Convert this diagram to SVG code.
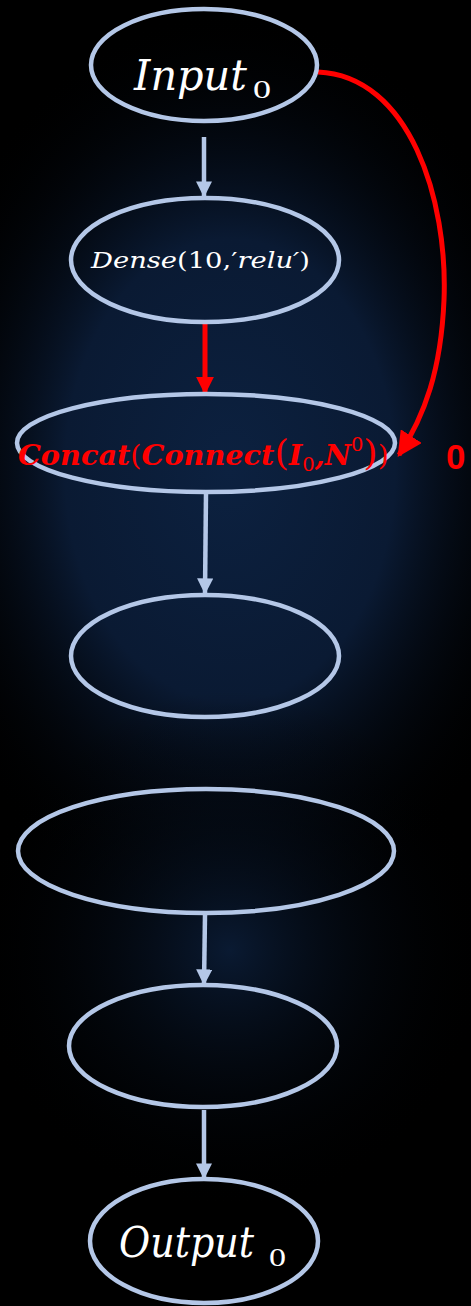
<svg xmlns="http://www.w3.org/2000/svg" width="471" height="1306" viewBox="0 0 471 1306">
<defs>
<radialGradient id="bg1" cx="230" cy="470" r="330" gradientUnits="userSpaceOnUse" gradientTransform="translate(230 470) scale(1 1.4) translate(-230 -470)">
<stop offset="0" stop-color="#0c2140"/>
<stop offset="0.5" stop-color="#0a1a33"/>
<stop offset="1" stop-color="#000000" stop-opacity="0"/>
</radialGradient>
<radialGradient id="bg2" cx="230" cy="950" r="260" gradientUnits="userSpaceOnUse">
<stop offset="0" stop-color="#0a1a32"/>
<stop offset="1" stop-color="#000000" stop-opacity="0"/>
</radialGradient>
<marker id="ab" viewBox="0 0 10 10" refX="9" refY="5" markerWidth="3.6" markerHeight="3.6" orient="auto" markerUnits="strokeWidth">
<path d="M0,0 L10,5 L0,10 z" fill="#b4c7e7"/>
</marker>
<marker id="ar" viewBox="0 0 10 10" refX="9" refY="5" markerWidth="3.6" markerHeight="3.6" orient="auto" markerUnits="strokeWidth">
<path d="M0,0 L10,5 L0,10 z" fill="#ff0000"/>
</marker>
<marker id="ar2" viewBox="0 0 10 10" refX="9" refY="5" markerWidth="5" markerHeight="5" orient="auto" markerUnits="strokeWidth">
<path d="M0,0 L10,5 L0,10 z" fill="#ff0000"/>
</marker>
</defs>
<style>
.node{fill:none;stroke:#b4c7e7;stroke-width:4.5}
.lbl{font-family:"DejaVu Serif",serif;font-style:italic;fill:#ffffff}
.up{font-family:"Liberation Serif",serif;font-style:normal;fill:#ffffff}
.rb{font-family:"DejaVu Serif",serif;font-style:italic;font-weight:bold;fill:#ff0000}
.rn{font-family:"DejaVu Serif",serif;font-style:normal;font-weight:normal;fill:#ff0000}
.blue{stroke:#b4c7e7;stroke-width:4.5;fill:none}
.red{stroke:#ff0000;stroke-width:5;fill:none}
</style>
<rect width="471" height="1306" fill="#000"/>
<rect width="471" height="1306" fill="url(#bg1)"/>
<rect width="471" height="1306" fill="url(#bg2)"/>
<g id="connectors">
<line class="blue" x1="204" y1="137" x2="204" y2="196" marker-end="url(#ab)"/>
<line class="red" x1="205" y1="322" x2="205" y2="393" marker-end="url(#ar)"/>
<line class="blue" x1="206" y1="493" x2="205" y2="593" marker-end="url(#ab)"/>
<line class="blue" x1="205" y1="915" x2="204" y2="984" marker-end="url(#ab)"/>
<line class="blue" x1="204" y1="1110" x2="204" y2="1178" marker-end="url(#ab)"/>
<path class="red" d="M318,72 C410,76 448,200 444,300 C441,370 425,415 399,455" marker-end="url(#ar2)"/>
</g>
<g id="n-input">
<ellipse class="node" cx="204" cy="65" rx="113" ry="56"/>
<text class="lbl" x="134" y="90" font-size="42" textLength="113" lengthAdjust="spacingAndGlyphs">Input</text>
<text class="up" x="253" y="98" font-size="25" textLength="18" lengthAdjust="spacingAndGlyphs">0</text>
</g>
<g id="n-dense">
<ellipse class="node" cx="205" cy="260" rx="134" ry="62"/>
<text class="lbl" x="91" y="268" font-size="23" textLength="219" lengthAdjust="spacingAndGlyphs">Dense<tspan font-style="normal">(10,′</tspan>relu′<tspan font-style="normal">)</tspan></text>
</g>
<g id="n-concat">
<ellipse class="node" cx="206" cy="443" rx="189" ry="49"/>
<text x="18" y="465" font-size="28" class="rb" textLength="371" lengthAdjust="spacingAndGlyphs">Concat<tspan class="rn">(</tspan>Connect<tspan class="rn" font-size="36">(</tspan>I<tspan class="rn" font-weight="bold" font-size="19" dy="6">0</tspan><tspan dy="-6">,N</tspan><tspan class="rn" font-weight="bold" font-size="19" dy="-14">0</tspan><tspan class="rn" font-size="36" dy="14">)</tspan><tspan class="rn">)</tspan></text>
</g>
<text x="446" y="469" font-family="Liberation Sans, sans-serif" font-weight="bold" font-size="35" fill="#ff0000">0</text>
<g id="n-4">
<ellipse class="node" cx="205" cy="656" rx="134" ry="61"/>
</g>
<g id="n-5">
<ellipse class="node" cx="206" cy="851" rx="188" ry="62"/>
</g>
<g id="n-6">
<ellipse class="node" cx="203" cy="1046" rx="134" ry="61"/>
</g>
<g id="n-output">
<ellipse class="node" cx="204" cy="1241" rx="114" ry="62"/>
<text class="lbl" x="119" y="1257" font-size="42" textLength="135" lengthAdjust="spacingAndGlyphs">Output</text>
<text class="up" x="269" y="1266" font-size="25" textLength="17" lengthAdjust="spacingAndGlyphs">0</text>
</g>
</svg>
